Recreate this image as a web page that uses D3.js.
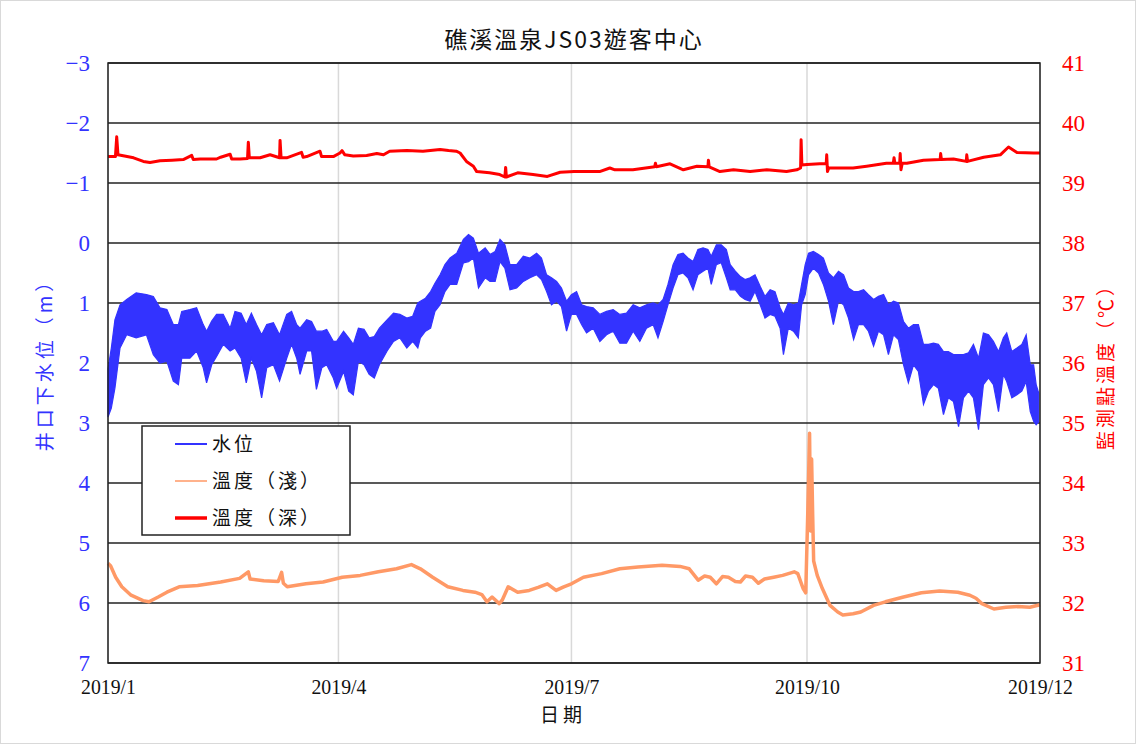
<!DOCTYPE html>
<html>
<head>
<meta charset="utf-8">
<script src="https://cdn.jsdelivr.net/npm/d3@7"></script>
<style>
html,body{margin:0;padding:0;background:#fff;}
svg{display:block;}
</style>
</head>
<body>
<svg id="chart" width="1136" height="744"></svg>
<script>
// ---------- DATA ----------
const chartTitle = "礁溪溫泉JS03遊客中心";
const xTitle = "日期";
const leftTitle = "井口下水位（m）";
const rightTitle = "監測點溫度（℃）";
const seriesNames = ["水位", "溫度（淺）", "溫度（深）"];

// x tick dates and left / right tick values
const xTickDates = ["2019-01-01", "2019-04-01", "2019-07-01", "2019-10-01", "2019-12-31"];
const leftTicks = [-3, -2, -1, 0, 1, 2, 3, 4, 5, 6, 7];
const rightTicks = [31, 32, 33, 34, 35, 36, 37, 38, 39, 40, 41];

// Water level below wellhead (m): days after 2019-01-01, shallowest and deepest reading of each interval
const levelDays = [0,1.3,2.7,4.7,7.3,11,15,17.7,20.3,23,25.5,27.5,28.8,32,34.6,37.2,38.5,40.5,42.4,45,47.7,49.6,52,54,56,58,60,62,64.6,67,69.8,71.7,73.7,75,77.6,79.5,81.4,83.5,85.4,88,89.3,92,94,95.8,97.8,100,102,104,106,109,111.5,114,116.7,119,121,
122,124,126,127.7,129.7,131.6,133.6,136.2,138.8,140.8,142.7,144.7,147.3,149.2,151.2,153.1,155,157,159.6,162.2,164.8,167.4,169.3,171.3,173.2,175.2,177.1,179.1,181,183,185,186.9,189.5,192.1,194.7,197.3,199.9,202.5,205.1,207.7,210.3,212.9,214.8,216.8,218.7,220.7,222.6,224.6,226.5,228.5,230.4,232.4,234.3,235.6,237.6,239.5,241.5,
243,245,247,248.8,250.8,252.7,254.7,256.6,258.6,260.5,262.5,263.8,265.7,267.7,269.6,270.9,272.3,273.6,275.5,277.5,279.4,281.4,283.3,285.3,287.3,289.2,291.2,293.1,295.1,297,299,300.9,302.9,304.8,306.8,308.7,310.7,312.6,314.6,316.5,318.5,320.4,322.4,324.3,326.3,328.2,330.2,332.2,334.1,336.1,338,340,341.9,343.9,345.8,347.8,349.7,351,353,355,356.9,358.6,360.2,361.5,362.5,363.5];
const levelShallow = [2.1,1.75,1.28,1.03,0.94,0.83,0.86,0.89,1.08,1.11,1.36,1.36,1.14,1.11,1.08,1.36,1.47,1.3,1.19,1.19,1.42,1.14,1.17,1.36,1.17,1.36,1.53,1.36,1.33,1.53,1.19,1.14,1.36,1.42,1.28,1.31,1.47,1.47,1.44,1.64,1.64,1.47,1.58,1.69,1.42,1.44,1.58,1.56,1.42,1.28,1.17,1.19,1.25,1.22,1.0,
0.97,0.92,0.81,0.67,0.53,0.36,0.25,0.17,-0.06,-0.14,-0.08,0.17,0.08,0.19,0.14,-0.06,0.03,0.36,0.36,0.22,0.25,0.17,0.25,0.53,0.58,0.64,0.75,0.97,0.86,0.81,1.03,1.06,1.08,1.19,1.14,1.11,1.19,1.17,1.03,1.08,1.03,1.0,1.03,0.94,0.69,0.36,0.19,0.17,0.25,0.31,0.11,0.08,0.11,0.22,0.03,0.03,0.11,
0.36,0.47,0.56,0.61,0.58,0.53,0.72,0.89,0.78,0.81,1.08,1.19,1.0,1.03,1.0,0.69,0.36,0.17,0.14,0.19,0.25,0.5,0.58,0.47,0.53,0.75,0.81,0.81,0.78,0.86,0.94,0.89,0.86,1.03,0.97,1.0,1.31,1.42,1.36,1.36,1.69,1.69,1.67,1.69,1.81,1.81,1.86,1.86,1.86,1.83,1.69,1.92,1.5,1.53,1.64,1.81,1.58,1.5,1.81,1.75,1.69,1.53,2.03,2.03,2.36,2.5];
const levelDeep = [2.9,2.75,2.42,1.75,1.53,1.58,1.53,1.86,2.0,1.97,2.3,2.36,1.92,1.92,1.8,2.08,2.33,2.03,1.89,1.69,1.8,1.75,1.92,2.33,1.92,2.14,2.58,2.08,2.03,2.3,1.92,1.69,1.92,2.19,1.8,1.8,2.44,2.08,2.03,2.25,2.42,2.14,2.47,2.53,1.97,2.03,2.19,2.25,2.03,1.8,1.64,1.58,1.75,1.64,1.75,
1.58,1.47,1.42,1.14,1.03,0.81,0.69,0.69,0.33,0.31,0.25,0.75,0.58,0.64,0.64,0.31,0.42,0.78,0.75,0.64,0.58,0.53,0.61,0.81,1.03,0.97,1.06,1.47,1.19,1.19,1.36,1.5,1.42,1.64,1.53,1.47,1.67,1.67,1.47,1.64,1.42,1.36,1.58,1.31,1.03,0.75,0.53,0.5,0.58,0.78,0.53,0.47,0.42,0.69,0.36,0.33,0.58,
0.78,0.78,0.89,0.94,0.97,0.81,1.03,1.25,1.19,1.22,1.42,1.86,1.42,1.47,1.58,1.03,0.86,0.53,0.42,0.5,0.69,0.97,1.36,0.97,1.03,1.25,1.61,1.36,1.36,1.47,1.72,1.47,1.53,1.86,1.53,1.61,2.03,2.33,2.03,2.14,2.69,2.47,2.36,2.42,2.86,2.58,2.64,3.06,2.58,2.47,2.58,3.11,2.36,2.25,2.36,2.81,2.19,2.31,2.58,2.53,2.47,2.31,2.81,2.97,3.03,2.98];

// Shallow temperature (°C)
const shallowDays = [0,1,3,5.4,9,13.7,16,19.6,23,27.8,35,44,51.4,54.8,55.5,60.8,66.5,67.8,68.5,70,77.3,84,91.5,98.5,105.6,112.7,118.5,122,126.8,132.7,138.6,143.3,146,148,150,152.8,154,156.3,160,164.5,168,171.6,175,178,181,185.7,192.8,199.9,207,216.4,223.4,227,230.5,233,235.2,237.6,240,242.3,245,247,249,251.7,254,256.4,260,263.5,268,269.4,271.5,272.5,273.3,274,274.4,274.8,275.2,275.6,277,279,282,285,287,291,294,299,303.6,310.7,317.7,324.8,331.9,336.6,339,341.3,346,350.7,355.4,360,364];
const shallowTemp = [32.66,32.62,32.43,32.27,32.13,32.04,32.02,32.10,32.18,32.27,32.29,32.35,32.41,32.52,32.40,32.37,32.36,32.51,32.33,32.27,32.32,32.35,32.43,32.46,32.52,32.57,32.64,32.57,32.43,32.27,32.21,32.18,32.14,32.02,32.10,31.99,32.05,32.27,32.18,32.21,32.26,32.32,32.21,32.27,32.32,32.43,32.49,32.57,32.60,32.63,32.61,32.57,32.38,32.45,32.43,32.32,32.44,32.43,32.36,32.35,32.45,32.43,32.33,32.40,32.43,32.46,32.52,32.49,32.24,32.17,33.50,34.83,33.20,34.40,33.50,32.70,32.46,32.24,31.96,31.85,31.80,31.82,31.85,31.96,32.02,32.10,32.17,32.20,32.18,32.13,32.08,31.99,31.90,31.93,31.94,31.93,31.97];

// Deep temperature (°C)
const deepDays = [0,2.9,3.4,3.9,10,13.8,16.4,20.3,25,29.4,32.7,33.3,36,42.4,44,47.7,48.3,51.6,54.5,54.8,55.2,59.4,63.3,67,67.2,67.6,69.8,75.6,76.2,77.6,82.8,83.4,88,90.6,91.4,92.5,95.8,101,105,107.6,110,116.7,123,129.7,133,136,137.5,140,142.7,144,149,153,155,155.3,155.6,160,166,171.6,176.6,182,188,192,196,198,205,213.5,213.8,214.2,219.5,224.7,230,234.3,234.5,234.8,239,244.3,250.8,257.3,265,269,270.5,270.7,271,273,278,280.5,280.7,281,281.5,283.3,291,296.3,304,306.7,307,307.3,309.2,309.4,309.7,310.2,312,318.5,325,325.2,325.5,330.2,335.2,335.4,335.7,342,348.5,351.7,355,361.5,364];
const deepTemp = [39.44,39.44,39.77,39.47,39.42,39.36,39.34,39.37,39.38,39.39,39.46,39.39,39.40,39.40,39.43,39.48,39.40,39.40,39.41,39.68,39.42,39.42,39.47,39.42,39.71,39.42,39.42,39.51,39.43,39.44,39.53,39.44,39.44,39.50,39.54,39.47,39.45,39.46,39.49,39.47,39.53,39.54,39.53,39.56,39.54,39.53,39.50,39.36,39.28,39.19,39.17,39.14,39.10,39.26,39.10,39.17,39.14,39.11,39.18,39.19,39.19,39.19,39.25,39.22,39.22,39.27,39.33,39.27,39.32,39.22,39.28,39.27,39.38,39.27,39.19,39.22,39.19,39.22,39.19,39.22,39.25,39.72,39.30,39.31,39.32,39.32,39.47,39.19,39.25,39.25,39.25,39.28,39.33,39.33,39.42,39.33,39.33,39.49,39.22,39.33,39.33,39.38,39.39,39.49,39.39,39.40,39.36,39.47,39.36,39.43,39.47,39.60,39.51,39.50,39.50];

// ---------- DRAWING ----------
const startDate = new Date(2019, 0, 1);
const dayToDate = d => new Date(startDate.getTime() + d * 864e5);
const parseDate = s => { const p = s.split("-").map(Number); return new Date(p[0], p[1]-1, p[2]); };

const svg = d3.select("#chart");
const W = 1136, H = 744;
const plot = {left: 108, right: 1040, top: 63, bottom: 663};

const CJK = "'Noto Sans CJK TC','Noto Sans CJK SC',sans-serif";
const SERIF = "'Liberation Serif','DejaVu Serif',serif";
const BLUE = "#3333ff", ORANGE = "#ff9966", RED = "#ff0000";

svg.append("rect").attr("x",0.5).attr("y",0.5).attr("width",W-1).attr("height",H-1)
  .attr("fill","#fff").attr("stroke","#d9d9d9");

const x = d3.scaleTime().domain([parseDate(xTickDates[0]), parseDate(xTickDates[xTickDates.length-1])]).range([plot.left, plot.right]);
const yL = d3.scaleLinear().domain([leftTicks[0], leftTicks[leftTicks.length-1]]).range([plot.top, plot.bottom]);
const yR = d3.scaleLinear().domain([rightTicks[rightTicks.length-1], rightTicks[0]]).range([plot.top, plot.bottom]);

// vertical gridlines
svg.append("g").selectAll("line").data(xTickDates.map(parseDate)).join("line")
  .attr("x1", d => x(d)).attr("x2", d => x(d))
  .attr("y1", plot.top).attr("y2", plot.bottom)
  .attr("stroke", "#d9d9d9").attr("stroke-width", 1.5);

// horizontal gridlines
svg.append("g").selectAll("line").data(leftTicks).join("line")
  .attr("x1", plot.left).attr("x2", plot.right)
  .attr("y1", d => yL(d)).attr("y2", d => yL(d))
  .attr("stroke", "#222").attr("stroke-width", 1.5);

// water level band
const levelData = levelDays.map((d, i) => ({t: dayToDate(d), a: levelShallow[i], b: levelDeep[i]}));
svg.append("path").datum(levelData)
  .attr("d", d3.area().x(d => x(d.t)).y0(d => yL(d.a)).y1(d => yL(d.b)))
  .attr("fill", BLUE).attr("stroke", BLUE).attr("stroke-width", 1.2).attr("stroke-linejoin","miter");

// shallow temperature
const shallowData = shallowDays.map((d, i) => ({t: dayToDate(d), v: shallowTemp[i]}));
svg.append("path").datum(shallowData)
  .attr("d", d3.line().x(d => x(d.t)).y(d => yR(d.v)))
  .attr("fill", "none").attr("stroke", ORANGE).attr("stroke-width", 3.5).attr("stroke-linejoin","round");

// deep temperature
const deepData = deepDays.map((d, i) => ({t: dayToDate(d), v: deepTemp[i]}));
svg.append("path").datum(deepData)
  .attr("d", d3.line().x(d => x(d.t)).y(d => yR(d.v)))
  .attr("fill", "none").attr("stroke", RED).attr("stroke-width", 3).attr("stroke-linejoin","round");

// plot border
svg.append("rect").attr("x", plot.left).attr("y", plot.top)
  .attr("width", plot.right - plot.left).attr("height", plot.bottom - plot.top)
  .attr("fill", "none").attr("stroke", "#222").attr("stroke-width", 1.5);

// axes
const fmtX = d => d.getFullYear() + "/" + (d.getMonth() + 1);
const gx = svg.append("g").attr("transform", `translate(0,${plot.bottom})`)
  .call(d3.axisBottom(x).tickValues(xTickDates.map(parseDate)).tickFormat(fmtX).tickSize(0).tickPadding(15));
gx.select(".domain").remove();
gx.selectAll("text").attr("font-family", SERIF).attr("font-size", 22).attr("fill", "#111")
  .attr("transform", "scale(0.9,1)");

const gl = svg.append("g").attr("transform", `translate(${plot.left},0)`)
  .call(d3.axisLeft(yL).tickValues(leftTicks).tickSize(0).tickPadding(18));
gl.select(".domain").remove();
gl.selectAll("text").attr("font-family", SERIF).attr("font-size", 23).attr("fill", BLUE);

const gr = svg.append("g").attr("transform", `translate(${plot.right},0)`)
  .call(d3.axisRight(yR).tickValues(rightTicks).tickSize(0).tickPadding(22));
gr.select(".domain").remove();
gr.selectAll("text").attr("font-family", SERIF).attr("font-size", 23).attr("fill", RED);

// titles
svg.append("text").attr("x", (plot.left + plot.right) / 2).attr("y", 48)
  .attr("text-anchor", "middle").attr("font-family", CJK).attr("font-size", 23)
  .attr("letter-spacing", 2).attr("fill", "#111").text(chartTitle);

svg.append("text").attr("x", 563).attr("y", 722)
  .attr("text-anchor", "middle").attr("font-family", CJK).attr("font-size", 19)
  .attr("letter-spacing", 4).attr("fill", "#111").text(xTitle);

svg.append("text").attr("transform", "translate(52,360) rotate(-90)")
  .attr("text-anchor", "middle").attr("font-family", CJK).attr("font-size", 19)
  .attr("letter-spacing", 4).attr("fill", BLUE).text(leftTitle);

svg.append("text").attr("transform", "translate(1113,362) rotate(-90)")
  .attr("text-anchor", "middle").attr("font-family", CJK).attr("font-size", 19)
  .attr("letter-spacing", 3).attr("fill", RED).text(rightTitle);

// legend
const legend = svg.append("g");
legend.append("rect").attr("x", 142).attr("y", 426).attr("width", 208).attr("height", 109)
  .attr("fill", "#fff").attr("stroke", "#222").attr("stroke-width", 1.5);
const legendColors = [BLUE, ORANGE, RED];
const legendWidths = [2, 1.5, 3.5];
seriesNames.forEach((name, i) => {
  const cy = 444 + i * 37;
  legend.append("line").attr("x1", 175).attr("x2", 207).attr("y1", cy).attr("y2", cy)
    .attr("stroke", legendColors[i]).attr("stroke-width", legendWidths[i]);
  legend.append("text").attr("x", 212).attr("y", cy + 7)
    .attr("font-family", CJK).attr("font-size", 19).attr("letter-spacing", 3)
    .attr("fill", "#111").text(name);
});
</script>
</body>
</html>
